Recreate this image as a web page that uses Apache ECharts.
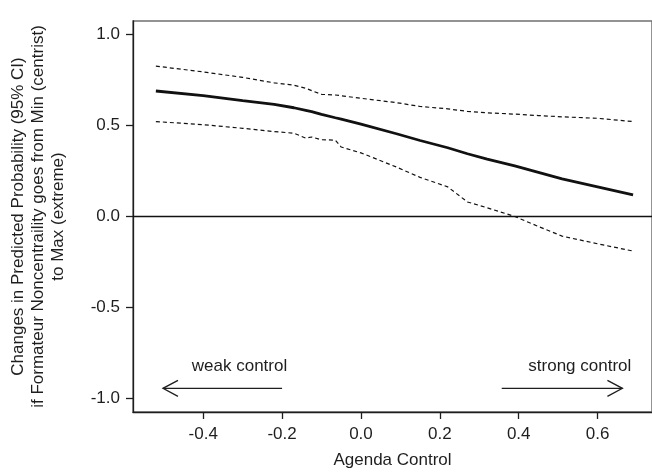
<!DOCTYPE html>
<html>
<head>
<meta charset="utf-8">
<script src="https://cdn.jsdelivr.net/npm/echarts@6/dist/echarts.min.js"></script>
<style>
  html, body { margin: 0; padding: 0; background: #fff; }
  #chart { width: 652px; height: 475px; }
</style>
</head>
<body>
<div id="chart"></div>
<script>
// ---- data ----
const agendaControl = [-0.52, -0.40, -0.30, -0.22, -0.17, -0.14, -0.125, -0.10, -0.065, -0.05, 0.00, 0.09, 0.15, 0.22, 0.27, 0.32, 0.39, 0.45, 0.51, 0.60, 0.69];
const estimate      = [0.690, 0.665, 0.637, 0.617, 0.598, 0.584, 0.577, 0.562, 0.543, 0.535, 0.508, 0.455, 0.418, 0.378, 0.345, 0.315, 0.278, 0.243, 0.207, 0.163, 0.119];
const upperCI       = [0.827, 0.795, 0.765, 0.735, 0.722, 0.705, 0.692, 0.672, 0.668, 0.664, 0.650, 0.626, 0.605, 0.592, 0.578, 0.570, 0.563, 0.555, 0.548, 0.540, 0.522];
const lowerCI       = [0.522, 0.505, 0.485, 0.467, 0.458, 0.431, 0.437, 0.422, 0.420, 0.382, 0.350, 0.272, 0.215, 0.163, 0.080, 0.048, 0.000, -0.055, -0.108, -0.150, -0.190];

const xTicks = [-0.4, -0.2, 0.0, 0.2, 0.4, 0.6];
const yTicks = [-1.0, -0.5, 0.0, 0.5, 1.0];

const annoText  = ['weak control', 'strong control'];
const annoTail  = [[-0.20, -0.945], [0.357, -0.945]];
const annoHead  = [[-0.502, -0.945], [0.663, -0.945]];
const annoLabel = [[-0.308, -0.822], [0.555, -0.822]];

const xTitle = 'Agenda Control';
const yTitle = 'Changes in Predicted Probability (95% CI)\nif Formateur Noncentraility goes from Min (centrist)\nto Max (extreme)';

// ---- chart ----
const FONT = '"Liberation Sans", Arial, Helvetica, sans-serif';
const INK = '#1e1e1e';
const pairs = (ys) => agendaControl.map((x, i) => [x, ys[i]]);
const annoData = annoText.map((t, i) => [annoTail[i][0], annoTail[i][1], annoHead[i][0], annoHead[i][1], annoLabel[i][0], annoLabel[i][1]]);

const chart = echarts.init(document.getElementById('chart'), null, { renderer: 'canvas' });
chart.setOption({
  animation: false,
  backgroundColor: '#fff',
  grid: {
    left: 132.5, top: 21, right: -8.7, bottom: 63,
    show: true, borderColor: '#707070', borderWidth: 1.5, backgroundColor: 'transparent'
  },
  xAxis: {
    type: 'value', min: -0.578, max: 0.738,
    name: xTitle, nameLocation: 'middle', nameGap: 40,
    nameTextStyle: { fontFamily: FONT, fontSize: 17, color: INK },
    axisLine: { show: true, onZero: false, lineStyle: { color: INK, width: 1.3 } },
    axisTick: { show: true, inside: false, length: 7, customValues: xTicks, lineStyle: { color: INK, width: 1.3 } },
    axisLabel: { customValues: xTicks, margin: 14, fontFamily: FONT, fontSize: 17, color: INK, formatter: v => v.toFixed(1) },
    splitLine: { show: false }
  },
  yAxis: {
    type: 'value', min: -1.075, max: 1.075,
    name: yTitle, nameLocation: 'middle', nameRotate: 90, nameGap: 65,
    nameTextStyle: { fontFamily: FONT, fontSize: 17, color: INK, lineHeight: 20, align: 'center' },
    axisLine: { show: true, onZero: false, lineStyle: { color: INK, width: 1.3 } },
    axisTick: { show: true, inside: false, length: 7, customValues: yTicks, lineStyle: { color: INK, width: 1.3 } },
    axisLabel: { customValues: yTicks, margin: 13, fontFamily: FONT, fontSize: 17, color: INK, formatter: v => v.toFixed(1) },
    splitLine: { show: false }
  },
  series: [
    {
      type: 'line', data: pairs(upperCI), showSymbol: false, silent: true,
      lineStyle: { color: '#111', width: 1.2, type: [4, 3] }
    },
    {
      type: 'line', data: pairs(lowerCI), showSymbol: false, silent: true,
      lineStyle: { color: '#111', width: 1.2, type: [4, 3] }
    },
    {
      type: 'line', data: pairs(estimate), showSymbol: false, silent: true,
      lineStyle: { color: '#111', width: 2.8 },
      markLine: {
        silent: true, symbol: ['none', 'none'], label: { show: false },
        lineStyle: { color: '#111', width: 1.3, type: 'solid' },
        data: [{ yAxis: 0 }]
      }
    },
    {
      type: 'custom', silent: true, data: annoData,
      encode: { x: [0, 2, 4], y: [1, 3, 5] },
      renderItem: function (params, api) {
        const tail = api.coord([api.value(0), api.value(1)]);
        const head = api.coord([api.value(2), api.value(3)]);
        const txt = api.coord([api.value(4), api.value(5)]);
        const dir = Math.sign(head[0] - tail[0]);
        const hl = 15, hw = 8;
        return {
          type: 'group',
          children: [
            { type: 'line', shape: { x1: tail[0], y1: tail[1], x2: head[0], y2: head[1] },
              style: { stroke: INK, lineWidth: 1.3 } },
            { type: 'polyline', shape: { points: [[head[0] - dir * hl, head[1] - hw], [head[0], head[1]], [head[0] - dir * hl, head[1] + hw]] },
              style: { stroke: INK, lineWidth: 1.3, fill: null } },
            { type: 'text', x: txt[0], y: txt[1],
              style: { text: annoText[params.dataIndex], fontFamily: FONT, fontSize: 17, fill: INK, align: 'center', verticalAlign: 'middle' } }
          ]
        };
      }
    }
  ]
});
</script>
</body>
</html>
